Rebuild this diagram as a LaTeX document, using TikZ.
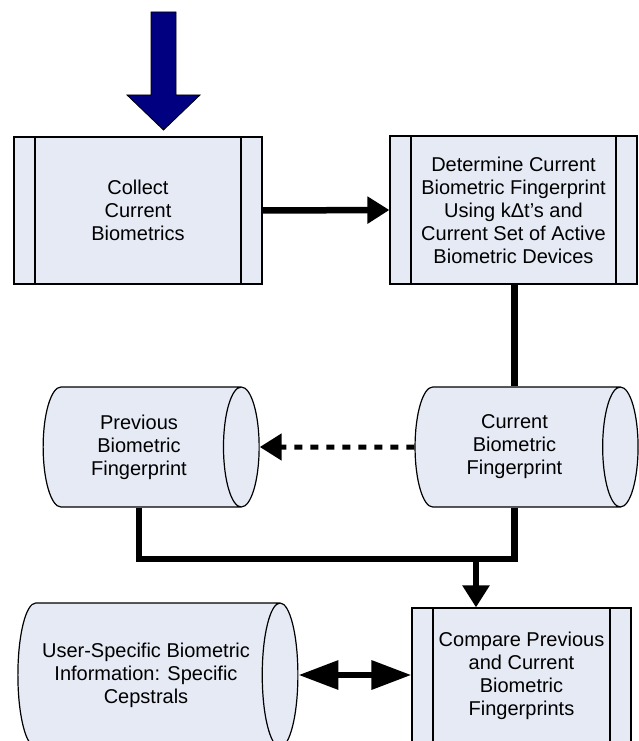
\documentclass[tikz,border=0pt]{standalone}
\usepackage{fontspec}
\setmainfont{Liberation Sans}
\usepackage{tikz}
\usetikzlibrary{positioning, arrows.meta, calc, shapes.geometric}
\definecolor{bio-fill}{HTML}{E5EAF5}
\definecolor{bio-navy}{HTML}{000080}
\newcommand{\bioFont}{\fontsize{20}{23}\selectfont}

\begin{document}
\begin{tikzpicture}[x=1pt, y=-1pt,
    process/.style={draw, line width=1.2pt, fill=bio-fill, align=center, font=\bioFont,
        path picture={
            \draw[line width=1.2pt]
                ([xshift=21pt]path picture bounding box.north west) -- ([xshift=21pt]path picture bounding box.south west)
                ([xshift=-21pt]path picture bounding box.north east) -- ([xshift=-21pt]path picture bounding box.south east);
        }},
    store/.style={cylinder, draw, line width=1.2pt, fill=bio-fill, align=center, font=\bioFont,
        aspect=0.5, minimum width=120pt},
    conn/.style={line width=6.5pt},
    tip/.style={-{Triangle[length=22pt, width=26pt]}},
]
    \useasboundingbox (0,0) rectangle (639,741);
    \clip (0,0) rectangle (639,741);

    % Input arrow
    \draw[fill=bio-navy, line width=0.8pt]
        (151,12) -- (176,12) -- (176,95) -- (200,95) -- (163.5,130) -- (127,95) -- (151,95) -- cycle;

    % Processes
    \node[process, minimum width=248pt, minimum height=147pt] (collect) at (138,210.5)
        {Collect\\Current\\Biometrics};
    \node[process, minimum width=247pt, minimum height=148pt] (determine) at (513.5,210)
        {Determine Current\\Biometric Fingerprint\\Using kΔt's and\\Current Set of Active\\Biometric Devices};
    \node[process, minimum width=219pt, minimum height=136pt] (compare) at (521.5,676)
        {Compare Previous\\and Current\\Biometric\\Fingerprints};

    % Stored data
    \node[store, minimum height=216pt] (prev) at (139,447)
        {Previous\\Biometric\\Fingerprint};
    \node[store, minimum height=223pt] (curr) at (514.5,447)
        {Current\\Biometric\\Fingerprint};
    \node[store, minimum height=280pt, minimum width=144pt] (user) at (146,675)
        {User-Specific Biometric\\Information: Specific\\Cepstrals};

    % Connectors
    \draw[conn, tip] (collect.east) -- (determine.west);
    \draw[conn] (determine.south -| curr.south) -- (curr.north);
    \draw[conn, tip, line width=5pt, dash pattern=on 8pt off 8pt] (curr.west) -- (prev.east);
    \coordinate (merge) at (476,559);
    \draw[conn] (prev.south) |- (curr.south |- merge) -- (curr.south);
    \draw[conn, tip] (merge) -- (merge |- compare.north);
    \draw[conn, {Triangle[length=40pt, width=28pt]}-{Triangle[length=40pt, width=28pt]}]
        (user.east) -- (user.east -| compare.west);
\end{tikzpicture}
\end{document}
